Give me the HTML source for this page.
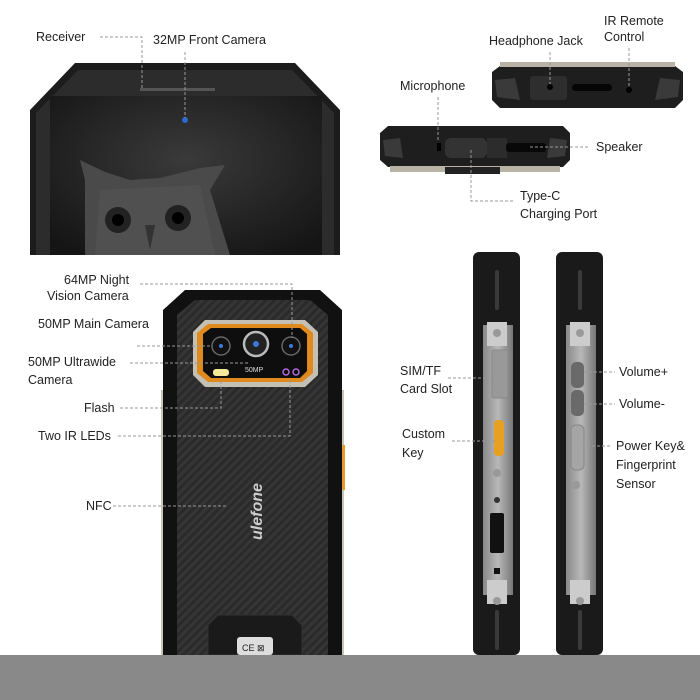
<!DOCTYPE html>
<html><head><meta charset="utf-8"><style>
html,body{margin:0;padding:0;background:#fff;}
svg{display:block}
text{font-family:"Liberation Sans",sans-serif;font-size:12.5px;fill:#222;}
.d{stroke:#999;stroke-width:1;stroke-dasharray:3 2;fill:none}
</style></head><body>
<svg width="700" height="700" viewBox="0 0 700 700" xmlns="http://www.w3.org/2000/svg">
<defs>
<pattern id="cf" width="6" height="6" patternUnits="userSpaceOnUse" patternTransform="rotate(45)">
<rect width="6" height="6" fill="#2a2a2a"/><rect width="3" height="6" fill="#353535"/></pattern>
<radialGradient id="sc" cx="0.5" cy="0.4" r="0.7"><stop offset="0" stop-color="#3a3a3a"/><stop offset="1" stop-color="#151515"/></radialGradient>
<linearGradient id="met" x1="0" x2="1"><stop offset="0" stop-color="#888"/><stop offset="0.5" stop-color="#b8b8b8"/><stop offset="1" stop-color="#777"/></linearGradient>
</defs>

<!-- front phone -->
<path d="M30,255 L30,110 L75,63 L295,63 L340,110 L340,255 Z" fill="#1c1c1c"/>
<path d="M36,255 L36,113 L78,70 L292,70 L334,113 L334,255Z" fill="#2c2c2c"/>
<rect x="50" y="96" width="272" height="159" fill="url(#sc)"/>
<rect x="140" y="88" width="75" height="3" fill="#555"/>
<circle cx="185" cy="120" r="3" fill="#2a6ad0"/>
<!-- owl -->
<path d="M85,255 L85,180 L80,160 L105,172 L130,180 L160,178 L200,168 L225,165 L210,190 L230,255Z" fill="#4a4a4a"/>
<path d="M100,190 L200,185 L215,255 L95,255Z" fill="#555" opacity="0.6"/>
<circle cx="118" cy="220" r="13" fill="#222"/><circle cx="118" cy="220" r="6" fill="#000"/>
<circle cx="178" cy="218" r="13" fill="#222"/><circle cx="178" cy="218" r="6" fill="#000"/>
<path d="M145,225 L150,250 L155,225Z" fill="#333"/>
<text x="36" y="41">Receiver</text>
<path class="d" d="M100,37 L142,37 L142,88"/>
<text x="153" y="44">32MP Front Camera</text>
<path class="d" d="M185,52 L185,118"/>

<!-- top views -->
<path d="M492,72 L500,66 L675,66 L683,72 L683,100 L675,108 L500,108 L492,100Z" fill="#1e1e1e"/>
<rect x="500" y="62" width="175" height="5" fill="#b9b3a6"/>
<rect x="530" y="76" width="37" height="24" rx="3" fill="#2e2e2e"/>
<circle cx="550" cy="87" r="3" fill="#000"/>
<rect x="572" y="84" width="40" height="7" rx="3.5" fill="#050505"/>
<circle cx="629" cy="90" r="3" fill="#000"/>
<path d="M495,80 L515,78 L520,100 L497,97Z" fill="#3a3a3a"/><path d="M680,80 L660,78 L655,100 L678,97Z" fill="#3a3a3a"/>
<path d="M380,133 L388,126 L563,126 L570,133 L570,160 L563,167 L388,167 L380,160Z" fill="#1e1e1e"/>
<rect x="390" y="166" width="170" height="6" fill="#b9b3a6"/>
<rect x="445" y="167" width="55" height="7" fill="#222"/>
<rect x="445" y="138" width="42" height="20" rx="6" fill="#333"/>
<rect x="487" y="138" width="20" height="20" fill="#2c2c2c"/>
<rect x="506" y="143" width="40" height="9" rx="3" fill="#080808"/>
<rect x="437" y="143" width="4" height="8" fill="#000"/>
<path d="M383,140 L400,138 L403,158 L385,156Z" fill="#3a3a3a"/><path d="M567,140 L550,138 L547,158 L565,156Z" fill="#3a3a3a"/>
<text x="489" y="45">Headphone Jack</text>
<path class="d" d="M550,52 L550,84"/>
<text x="604" y="25">IR Remote</text><text x="604" y="41">Control</text>
<path class="d" d="M629,48 L629,86"/>
<text x="400" y="90">Microphone</text>
<path class="d" d="M438,97 L438,142"/>
<text x="596" y="151">Speaker</text>
<path class="d" d="M530,147 L590,147"/>
<text x="520" y="200">Type-C</text><text x="520" y="218">Charging Port</text>
<path class="d" d="M471,150 L471,201 L515,201"/>

<!-- back phone -->
<rect x="161" y="390" width="10" height="265" fill="#c9c4b8"/>
<rect x="334" y="390" width="10" height="265" fill="#c9c4b8"/>
<rect x="340" y="445" width="5" height="45" fill="#e69a28"/>
<path d="M163,655 L163,310 L185,290 L320,290 L342,310 L342,655Z" fill="#111"/>
<path d="M177,655 L177,315 L195,300 L310,300 L328,315 L328,655Z" fill="url(#cf)"/>
<path d="M193,332 L205,320 L305,320 L318,332 L318,375 L305,387 L205,387 L193,375Z" fill="#c5c0b5"/>
<path d="M197,333 L208,324 L302,324 L313,333 L313,373 L302,382 L208,382 L197,373Z" fill="#e08a1e"/>
<path d="M203,334 L211,328 L300,328 L307,334 L307,371 L300,378 L211,378 L203,371Z" fill="#0e0e0e"/>
<circle cx="221" cy="346" r="9" fill="#111" stroke="#666" stroke-width="1.5"/><circle cx="221" cy="346" r="2" fill="#3a7ad8"/>
<circle cx="256" cy="344" r="12" fill="#222" stroke="#bbb" stroke-width="2.5"/><circle cx="256" cy="344" r="3" fill="#3a7ad8"/>
<circle cx="291" cy="346" r="9" fill="#111" stroke="#666" stroke-width="1.5"/><circle cx="291" cy="346" r="2" fill="#3a7ad8"/>
<rect x="213" y="369" width="16" height="7" rx="3" fill="#f4e89a"/>
<circle cx="286" cy="372" r="3" fill="none" stroke="#b06ad8" stroke-width="1.5"/><circle cx="296" cy="372" r="3" fill="none" stroke="#b06ad8" stroke-width="1.5"/>
<text x="245" y="372" style="font-size:7px;fill:#ddd">50MP</text>
<text transform="translate(262,540) rotate(-90)" style="font-size:16px;font-weight:bold;font-style:italic;fill:#ccc">ulefone</text>
<path d="M208,625 L218,615 L292,615 L302,625 L302,655 L208,655Z" fill="#1a1a1a" stroke="#333"/>
<rect x="237" y="637" width="36" height="18" rx="3" fill="#ddd"/>
<text x="242" y="651" style="font-size:9px;fill:#222">CE ⊠</text>
<text x="64" y="284">64MP Night</text><text x="47" y="300">Vision Camera</text>
<path class="d" d="M140,284 L292,284 L292,338"/>
<text x="38" y="328">50MP Main Camera</text>
<path class="d" d="M137,346 L210,346"/>
<text x="28" y="366">50MP Ultrawide</text><text x="28" y="384">Camera</text>
<path class="d" d="M130,363 L250,363"/>
<text x="84" y="412">Flash</text>
<path class="d" d="M120,408 L221,408 L221,378"/>
<text x="38" y="440">Two IR LEDs</text>
<path class="d" d="M118,436 L290,436 L290,378"/>
<text x="86" y="510">NFC</text>
<path class="d" d="M113,506 L228,506"/>

<!-- side views -->
<rect x="473" y="252" width="47" height="403" rx="6" fill="#1a1a1a"/>
<rect x="483" y="325" width="30" height="270" fill="url(#met)"/>
<rect x="495" y="270" width="4" height="40" rx="2" fill="#3a3a3a"/>
<rect x="495" y="610" width="4" height="40" rx="2" fill="#3a3a3a"/>
<rect x="487" y="322" width="20" height="24" fill="#ccc"/><circle cx="497" cy="333" r="4" fill="#999"/>
<rect x="487" y="580" width="20" height="24" fill="#ccc"/><circle cx="497" cy="601" r="4" fill="#999"/>
<rect x="492" y="350" width="16" height="48" rx="2" fill="#999" stroke="#888"/>
<rect x="494" y="420" width="10" height="36" rx="4" fill="#e8a020"/>
<circle cx="497" cy="473" r="4" fill="#999"/><circle cx="497" cy="500" r="3" fill="#333"/>
<rect x="490" y="513" width="14" height="40" rx="2" fill="#111"/>
<rect x="494" y="568" width="6" height="6" fill="#111"/>
<rect x="556" y="252" width="47" height="403" rx="6" fill="#1a1a1a"/>
<rect x="566" y="325" width="30" height="270" fill="url(#met)"/>
<rect x="578" y="270" width="4" height="40" rx="2" fill="#3a3a3a"/>
<rect x="578" y="610" width="4" height="40" rx="2" fill="#3a3a3a"/>
<rect x="570" y="322" width="20" height="24" fill="#ccc"/><circle cx="580" cy="333" r="4" fill="#999"/>
<rect x="570" y="580" width="20" height="24" fill="#ccc"/><circle cx="580" cy="601" r="4" fill="#999"/>
<rect x="571" y="362" width="13" height="26" rx="5" fill="#6a6a6a"/>
<rect x="571" y="390" width="13" height="26" rx="5" fill="#6a6a6a"/>
<rect x="571" y="425" width="13" height="45" rx="5" fill="#a5a5a5" stroke="#888"/>
<circle cx="576" cy="485" r="4" fill="#999"/>
<text x="400" y="375">SIM/TF</text><text x="400" y="393">Card Slot</text>
<path class="d" d="M448,378 L493,378"/>
<text x="402" y="438">Custom</text><text x="402" y="457">Key</text>
<path class="d" d="M452,441 L497,441"/>
<text x="619" y="376">Volume+</text>
<path class="d" d="M584,372 L615,372"/>
<text x="619" y="408">Volume-</text>
<path class="d" d="M584,404 L615,404"/>
<text x="616" y="450">Power Key&amp;</text><text x="616" y="469">Fingerprint</text><text x="616" y="488">Sensor</text>
<path class="d" d="M582,446 L612,446"/>

<rect x="0" y="655" width="700" height="45" fill="#898989"/>
</svg>
</body></html>
